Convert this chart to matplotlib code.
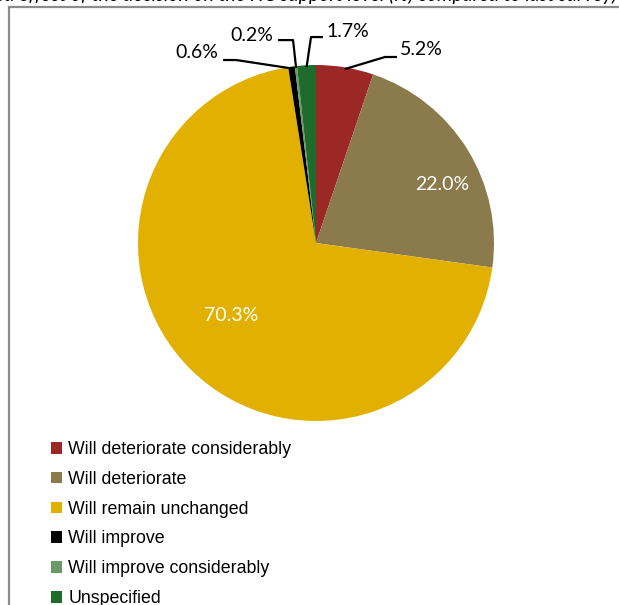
import matplotlib
matplotlib.use("Agg")
import matplotlib.pyplot as plt
from matplotlib.patches import Rectangle
import numpy as np

# データ
categories = ["Will deteriorate considerably", "Will deteriorate",
              "Will remain unchanged", "Will improve",
              "Will improve considerably", "Unspecified"]
values = [5.2, 22.0, 70.3, 0.6, 0.2, 1.7]
colors = ["#9C2826", "#8B7A4C", "#E2B000", "#000000", "#6A9A68", "#1F6B2C"]

W, H = 619, 605
fig = plt.figure(figsize=(W / 100, H / 100), dpi=100)

legend_font = "Liberation Sans"
label_font = "Lato"

# 枠線（右と下ははみ出している）
fig.patches.append(Rectangle((9 / W, -0.1), 1.2, (H - 7) / H + 0.1,
                             transform=fig.transFigure, fill=False,
                             edgecolor="#8c8c8c", lw=1.6, clip_on=False))

# 上の切れたタイトル
fig.text(617 / W, (H - 1) / H,
         "Expected effect of the decision on the HC support level (%) compared to last survey)",
         ha="right", va="baseline", fontsize=14, style="italic",
         family=label_font, color="black")

# 円グラフ（中心 316,243 半径 178 px）
cx, cy, r = 316, 243, 178
ax = fig.add_axes([(cx - r) / W, (H - cy - r) / H, 2 * r / W, 2 * r / H])
wedges, _ = ax.pie(values, colors=colors, startangle=90, counterclock=False,
                   radius=1, wedgeprops=dict(linewidth=0))
ax.set_xlim(-1, 1)
ax.set_ylim(-1, 1)
ax.set_aspect("auto")
ax.axis("off")

# 内側ラベル
inside = {1: (0.708, 0.326), 2: (-0.478, -0.41)}
for i, (x, y) in inside.items():
    ax.text(x, y, f"{values[i]:.1f}%", ha="center", va="center",
            color="white", fontsize=14, family=label_font)

# 外側ラベル（引き出し線）: index -> (elbow, line end, text pos, ha)
outside = {
    0: ((0.388, 1.045), (0.455, 1.045), (0.472, 1.085), "left"),
    3: ((-0.449, 1.028), (-0.522, 1.028), (-0.548, 1.072), "right"),
    4: ((-0.129, 1.140), (-0.213, 1.140), (-0.238, 1.165), "right"),
    5: ((-0.028, 1.157), (0.039, 1.157), (0.060, 1.188), "left"),
}
for i, (elbow, end, tpos, ha) in outside.items():
    w = wedges[i]
    mid = np.deg2rad((w.theta1 + w.theta2) / 2)
    x0, y0 = np.cos(mid) * 0.99, np.sin(mid) * 0.99
    ax.plot([x0, elbow[0], end[0]], [y0, elbow[1], end[1]],
            color="black", lw=1.6, clip_on=False, solid_capstyle="butt")
    ax.text(tpos[0], tpos[1], f"{values[i]:.1f}%", ha=ha, va="center",
            fontsize=14, family=label_font, clip_on=False)

# 凡例
fig.legend(wedges, categories, loc="upper left",
           bbox_to_anchor=(51 / W, (H - 441) / H),
           frameon=False, prop=dict(family=legend_font, size=12.8),
           handlelength=0.62, handleheight=0.62, handletextpad=0.35,
           labelspacing=0.72, borderaxespad=0, borderpad=0)

fig.savefig("out.png", dpi=100)
